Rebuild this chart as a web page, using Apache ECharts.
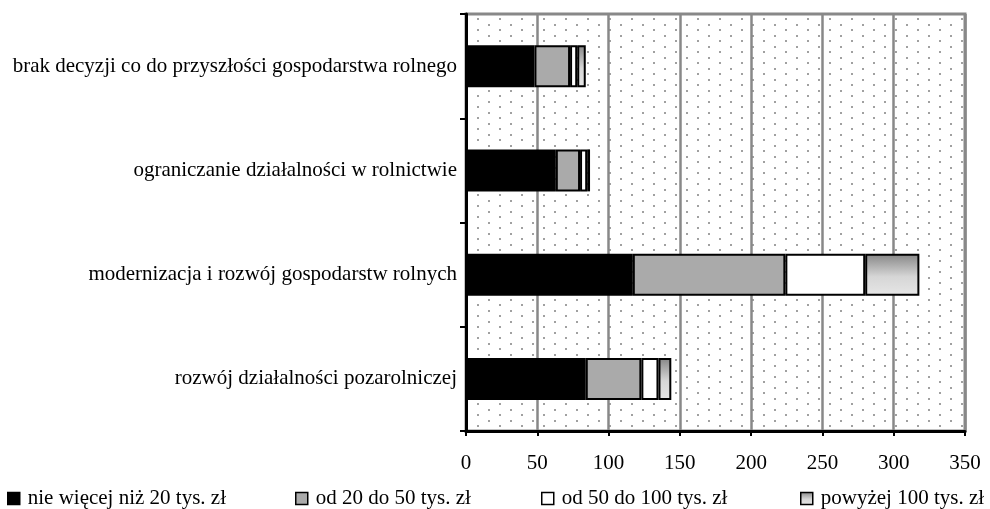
<!DOCTYPE html>
<html>
<head>
<meta charset="utf-8">
<script src="https://cdn.jsdelivr.net/npm/echarts@6/dist/echarts.min.js"></script>
<style>
html,body{margin:0;padding:0;background:#fff;}
#chart{width:990px;height:509px;}
</style>
</head>
<body>
<div id="chart"></div>
<script>
// Categories top-to-bottom as in the reference
const categories = [
  'brak decyzji co do przyszłości gospodarstwa rolnego',
  'ograniczanie działalności w rolnictwie',
  'modernizacja i rozwój gospodarstw rolnych',
  'rozwój działalności pozarolniczej'
];
const seriesNames = [
  'nie więcej niż 20 tys. zł',
  'od 20 do 50 tys. zł',
  'od 50 do 100 tys. zł',
  'powyżej 100 tys. zł'
];
const upTo20 = [48, 63, 117, 84];
const from20to50 = [25, 17, 107, 39];
const from50to100 = [5, 5, 56, 12];
const above100 = [6, 2, 38, 9];
const xTicks = [0, 50, 100, 150, 200, 250, 300, 350];

const FONT = "'Liberation Serif','Times New Roman',serif";
const FS = 21;

// dotted background pattern
const tile = document.createElement('canvas');
tile.width = 22; tile.height = 11;
const tctx = tile.getContext('2d');
tctx.fillStyle = '#fff';
tctx.fillRect(0, 0, 22, 11);
tctx.fillStyle = '#a0a0a0';
tctx.fillRect(4, 2, 2, 2);
tctx.fillRect(15, 7, 2, 2);

const gradFill = {
  type: 'linear', x: 0, y: 0, x2: 0, y2: 1,
  colorStops: [
    {offset: 0, color: '#858585'},
    {offset: 0.55, color: '#d6d6d6'},
    {offset: 1, color: '#e6e6e6'}
  ]
};
const fills = ['#000000', '#aaaaaa', '#ffffff', gradFill];
const dataSets = [upTo20, from20to50, from50to100, above100];

const chart = echarts.init(document.getElementById('chart'), null, {renderer: 'canvas'});

const series = seriesNames.map((n, i) => ({
  name: n,
  type: 'bar',
  stack: 'total',
  barWidth: 42,
  data: dataSets[i],
  itemStyle: {color: fills[i], borderColor: '#000', borderWidth: 2},
  emphasis: {disabled: true},
  animation: false
}));

const legendLefts = [7, 295, 541, 800];
const legends = seriesNames.map((n, i) => ({
  data: [n],
  left: legendLefts[i],
  top: 488,
  padding: 0,
  itemWidth: 12,
  itemHeight: 12,
  icon: 'rect',
  textStyle: {fontFamily: FONT, fontSize: FS, color: '#000', padding: [0, 0, 0, 3]},
  selectedMode: false,
  itemStyle: {borderColor: '#000', borderWidth: 1.5}
}));

chart.setOption({
  backgroundColor: '#fff',
  animation: false,
  textStyle: {fontFamily: FONT},
  legend: legends,
  grid: {
    left: 466, right: 25, top: 14, bottom: 78,
    show: true,
    backgroundColor: {image: tile, repeat: 'repeat'},
    borderColor: '#888',
    borderWidth: 3
  },
  xAxis: {
    type: 'value',
    min: xTicks[0],
    max: xTicks[xTicks.length - 1],
    interval: 50,
    axisLine: {show: true, lineStyle: {color: '#000', width: 3}},
    axisTick: {show: true, length: 5, lineStyle: {color: '#000', width: 2}},
    splitLine: {show: true, lineStyle: {color: '#888', width: 2.5}},
    axisLabel: {fontFamily: FONT, fontSize: FS, color: '#000', margin: 22}
  },
  yAxis: {
    type: 'category',
    data: categories,
    inverse: true,
    axisLine: {show: true, lineStyle: {color: '#000', width: 3}},
    axisTick: {show: true, length: 6, lineStyle: {color: '#000', width: 2}},
    axisLabel: {fontFamily: FONT, fontSize: FS, color: '#000', margin: 9}
  },
  series: series
});
</script>
</body>
</html>
